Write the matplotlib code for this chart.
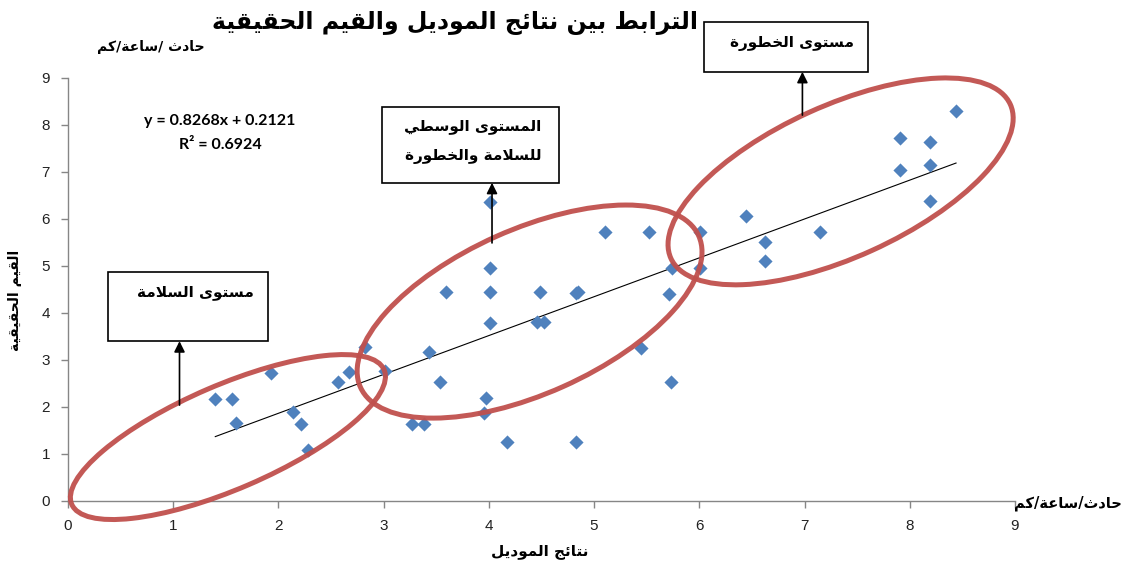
import numpy as np
import matplotlib
matplotlib.use("Agg")
import matplotlib.pyplot as plt
from matplotlib.patches import Ellipse, Rectangle
from matplotlib.transforms import Affine2D

# model output vs. measured values (accident / hour / km)
x_model = [1.40, 1.56, 1.60, 1.93, 2.14, 2.21, 2.28, 2.57, 2.67, 2.82, 3.01, 3.27,
           3.38, 3.43, 3.54, 3.59, 3.95, 3.97, 4.01, 4.01, 4.01, 4.01, 4.17, 4.49,
           4.46, 4.52, 4.83, 4.85, 4.83, 5.10, 5.52, 5.45, 5.71, 5.74, 5.73, 6.01,
           6.01, 6.44, 6.62, 6.62, 7.15, 7.91, 7.91, 8.19, 8.19, 8.19, 8.44]
y_actual = [2.17, 2.17, 1.65, 2.73, 1.90, 1.63, 1.09, 2.53, 2.74, 3.27, 2.77, 1.63,
            1.63, 3.18, 2.54, 4.45, 1.87, 2.19, 6.37, 4.95, 4.45, 3.79, 1.26, 4.45,
            3.81, 3.81, 4.42, 4.45, 1.26, 5.73, 5.73, 3.26, 4.40, 4.95, 2.54, 5.73,
            4.95, 6.06, 5.50, 5.11, 5.73, 7.72, 7.04, 7.64, 7.15, 6.39, 8.30]

slope, intercept, r2 = 0.8268, 0.2121, 0.6924
ticks = list(range(0, 10))

title = "الترابط بين نتائج الموديل والقيم الحقيقية"
x_label = "نتائج الموديل"
y_label = "القيم الحقيقية"
unit_y = "حادث /ساعة/كم"
unit_x = "حادث/ساعة/كم"
zone_names = ["مستوى السلامة", "المستوى الوسطي", "للسلامة والخطورة", "مستوى الخطورة"]


# matplotlib has no arabic shaping, so pick the presentation forms by hand
# letter -> (isolated form, number of forms: 1 none, 2 right-joining, 4 dual)
AR_FORMS = {
    'ء': (0xFE80, 1), 'آ': (0xFE81, 2), 'أ': (0xFE83, 2), 'ؤ': (0xFE85, 2), 'إ': (0xFE87, 2),
    'ئ': (0xFE89, 4), 'ا': (0xFE8D, 2), 'ب': (0xFE8F, 4), 'ة': (0xFE93, 2), 'ت': (0xFE95, 4),
    'ث': (0xFE99, 4), 'ج': (0xFE9D, 4), 'ح': (0xFEA1, 4), 'خ': (0xFEA5, 4), 'د': (0xFEA9, 2),
    'ذ': (0xFEAB, 2), 'ر': (0xFEAD, 2), 'ز': (0xFEAF, 2), 'س': (0xFEB1, 4), 'ش': (0xFEB5, 4),
    'ص': (0xFEB9, 4), 'ض': (0xFEBD, 4), 'ط': (0xFEC1, 4), 'ظ': (0xFEC5, 4), 'ع': (0xFEC9, 4),
    'غ': (0xFECD, 4), 'ف': (0xFED1, 4), 'ق': (0xFED5, 4), 'ك': (0xFED9, 4), 'ل': (0xFEDD, 4),
    'م': (0xFEE1, 4), 'ن': (0xFEE5, 4), 'ه': (0xFEE9, 4), 'و': (0xFEED, 2), 'ى': (0xFEEF, 2),
    'ي': (0xFEF1, 4), 'LA': (0xFEFB, 2),
}


def ar(text):
    chars = []
    i = 0
    while i < len(text):
        if text[i] == 'ل' and i + 1 < len(text) and text[i + 1] == 'ا':
            chars.append('LA')
            i += 2
        else:
            chars.append(text[i])
            i += 1
    out = []
    for k, c in enumerate(chars):
        if c not in AR_FORMS:
            out.append(c)
            continue
        base, n = AR_FORMS[c]
        prev = chars[k - 1] if k > 0 else None
        nxt = chars[k + 1] if k + 1 < len(chars) else None
        jp = prev in AR_FORMS and AR_FORMS[prev][1] == 4
        jn = n == 4 and nxt in AR_FORMS and AR_FORMS[nxt][1] > 1
        if n == 1:
            code = base
        elif jp and jn:
            code = base + 3
        elif jp:
            code = base + 1
        elif jn:
            code = base + 2
        else:
            code = base
        out.append(chr(code))
    return ''.join(reversed(out))


plt.rcParams['font.family'] = ['DejaVu Sans']

fig = plt.figure(figsize=(11.31, 5.73), dpi=100)
ax = fig.add_axes([0.0601, 0.1257, 0.8373, 0.7382])

ax.scatter(x_model, y_actual, marker='D', s=52, color='#4F81BD', zorder=3, linewidths=0)

xs = np.array([min(x_model), max(x_model)])
ax.plot(xs, slope * xs + intercept, color='black', lw=0.8, zorder=2)

ax.set_xlim(0, 9)
ax.set_ylim(0, 9)
ax.set_xticks(ticks)
ax.set_yticks(ticks)
for s in ['top', 'right']:
    ax.spines[s].set_visible(False)
for s in ['left', 'bottom']:
    ax.spines[s].set_color('#868686')
    ax.spines[s].set_linewidth(1.0)
ax.tick_params(axis='both', color='#868686', length=5, width=1.0,
               labelsize=11, labelcolor='#222222')
ax.tick_params(axis='x', pad=8)
ax.tick_params(axis='y', pad=8)
for lab in ax.get_xticklabels() + ax.get_yticklabels():
    lab.set_fontfamily('Liberation Sans')

# ellipses are drawn in a space where x and y units are equally long on screen
bbox = ax.get_position()
ratio = (bbox.height * fig.get_figheight()) / (bbox.width * fig.get_figwidth())
iso = Affine2D().scale(1, 1 / ratio) + ax.transData
zones = [((1.52, 1.36), 1.616, 0.494, 23.3),
         ((4.387, 4.03), 1.761, 0.781, 24.1),
         ((7.343, 6.80), 1.771, 0.721, 24.4)]
for (cx, cy), a, b, ang in zones:
    ax.add_patch(Ellipse((cx, cy * ratio), 2 * a, 2 * b, angle=ang, transform=iso,
                         fill=False, edgecolor='#C0504D', lw=3.6, alpha=0.95,
                         clip_on=False, zorder=4))

# label boxes with arrows pointing from the ellipses
boxes = [(0.38, 3.40, 1.52, 1.47), (2.985, 6.77, 1.68, 1.61), (6.046, 9.13, 1.56, 1.06)]
for bx, by, bw, bh in boxes:
    ax.add_patch(Rectangle((bx, by), bw, bh, fill=True, facecolor='white',
                           edgecolor='black', lw=1.2, clip_on=False, zorder=5))
arrows = [(1.06, 2.04, 3.40), (4.03, 5.49, 6.77), (6.98, 8.21, 9.13)]
for axx, y0, y1 in arrows:
    ax.annotate('', xy=(axx, y1), xytext=(axx, y0), annotation_clip=False,
                arrowprops=dict(arrowstyle='-|>', color='black', lw=1.2,
                                mutation_scale=16, shrinkA=0, shrinkB=0), zorder=5)

tkw = dict(fontsize=11, fontweight='bold', color='black', zorder=6, clip_on=False)
ax.text(1.21, 4.43, ar(zone_names[0]), ha='center', va='center', **tkw)
ax.text(4.50, 7.96, ar(zone_names[1]), ha='right', va='center', **tkw)
ax.text(4.50, 7.32, ar(zone_names[2]), ha='right', va='center', **tkw)
ax.text(6.88, 9.74, ar(zone_names[3]), ha='center', va='center', **tkw)

ax.text(1.445, 8.09, f"y = {slope}x + {intercept}", ha='center', va='center',
        fontsize=11.5, fontweight='bold', family='Lato')
ax.text(1.445, 7.57, f"R² = {r2}", ha='center', va='center',
        fontsize=11.5, fontweight='bold', family='Lato')

fig.text(0.402, 0.960, ar(title), ha='center', va='center', fontsize=17, fontweight='bold')
fig.text(0.133, 0.918, ar(unit_y), ha='center', va='center', fontsize=10, fontweight='bold')
fig.text(0.944, 0.122, ar(unit_x), ha='center', va='center', fontsize=10.5, fontweight='bold')
fig.text(0.477, 0.037, ar(x_label), ha='center', va='center', fontsize=11, fontweight='bold')
fig.text(0.013, 0.476, ar(y_label), ha='center', va='center', fontsize=10,
         fontweight='bold', rotation=90)

fig.savefig('out.png', dpi=100, facecolor='white')
